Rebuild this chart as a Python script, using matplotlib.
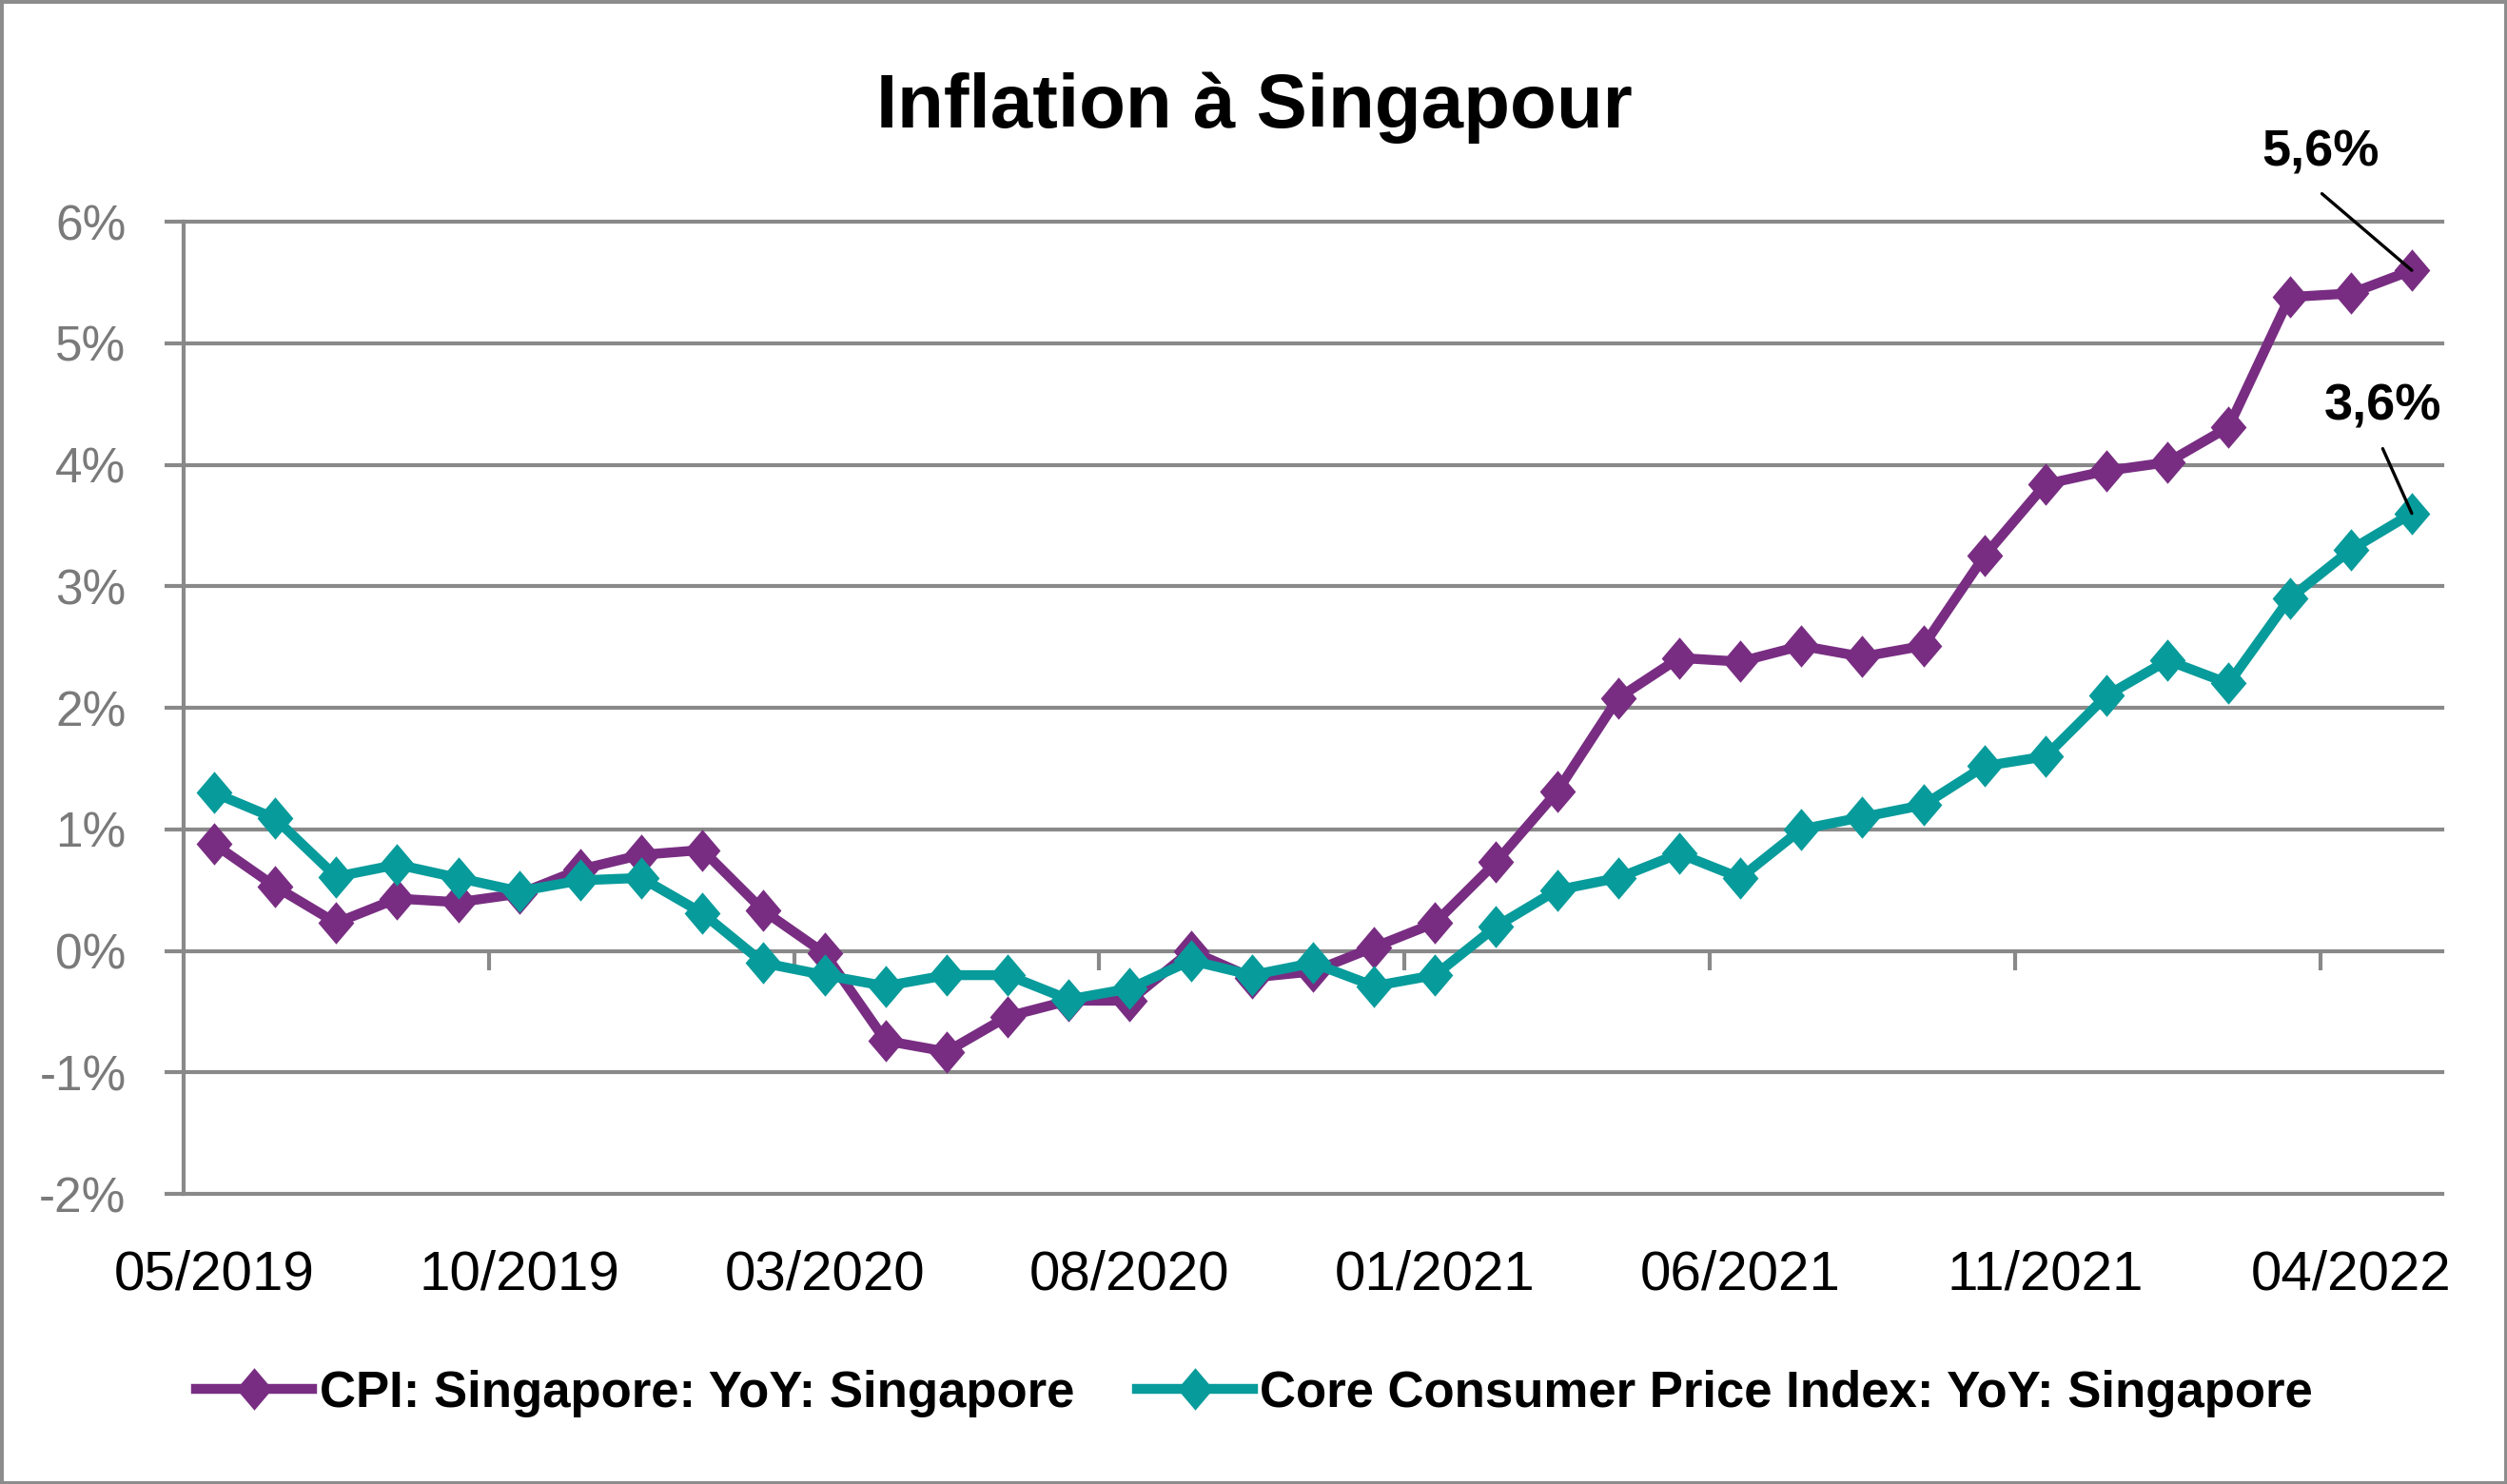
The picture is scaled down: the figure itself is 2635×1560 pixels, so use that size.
import matplotlib
matplotlib.use('Agg')
import matplotlib.pyplot as plt
from matplotlib.patches import Rectangle
import pandas as pd

months = list(pd.date_range('2019-05-01', periods=37, freq='MS').strftime('%m/%Y'))
cpi = [0.88, 0.53, 0.23, 0.43, 0.40, 0.47, 0.67, 0.79, 0.83, 0.33, -0.02, -0.74,
       -0.83, -0.54, -0.41, -0.41, 0.0, -0.22, -0.17, 0.03, 0.23, 0.73, 1.31, 2.08,
       2.41, 2.38, 2.51, 2.42, 2.51, 3.25, 3.84, 3.95, 4.02, 4.31, 5.38, 5.41, 5.60]
core = [1.3, 1.09, 0.61, 0.71, 0.6, 0.49, 0.58, 0.6, 0.31, -0.1, -0.2, -0.29,
        -0.2, -0.2, -0.4, -0.31, -0.08, -0.2, -0.1, -0.29, -0.2, 0.2, 0.5, 0.6,
        0.8, 0.6, 1.0, 1.1, 1.2, 1.52, 1.6, 2.1, 2.39, 2.2, 2.9, 3.3, 3.6]
yticks = [-2, -1, 0, 1, 2, 3, 4, 5, 6]
series_names = ['CPI: Singapore: YoY: Singapore', 'Core Consumer Price Index: YoY: Singapore']
title = 'Inflation à Singapour'
labels_last = ['5,6%', '3,6%']

PURPLE = '#782D82'
TEAL = '#089B9B'
GRID = '#898989'
plt.rcParams['font.family'] = ['Liberation Sans', 'DejaVu Sans']

fig = plt.figure(figsize=(26.35, 15.6), dpi=100)
ax = fig.add_axes([0.0732, 0.1955, 0.901, 0.6551])

diamond = [(0, 1), (0.85, 0), (0, -1), (-0.85, 0), (0, 1)]
x = list(range(len(months)))
ax.plot(x, cpi, color=PURPLE, lw=7.5, marker=diamond, ms=32, mec=PURPLE, mew=0,
        label=series_names[0], zorder=3, solid_joinstyle='miter')
ax.plot(x, core, color=TEAL, lw=7.5, marker=diamond, ms=32, mec=TEAL, mew=0,
        label=series_names[1], zorder=4, solid_joinstyle='miter')

ax.set_xlim(-0.5, len(months) - 0.5)
ax.set_ylim(yticks[0], yticks[-1])
for v in yticks:
    ax.axhline(v, color=GRID, lw=3, zorder=1, clip_on=False)

for s in ['top', 'right', 'bottom']:
    ax.spines[s].set_visible(False)
ax.spines['left'].set_color(GRID)
ax.spines['left'].set_linewidth(3)

ax.set_yticks(yticks)
ax.set_yticklabels([f'{v}%' for v in yticks], fontsize=37, color='#7a7a7a')
ax.tick_params(axis='y', length=14.4, width=3, color=GRID, pad=29)

ax.set_xticks(x[::5])
ax.set_xticklabels(months[::5], fontsize=42, color='black')
ax.tick_params(axis='x', length=0, pad=42)

# horizontal axis line ticks at 0%
sec = ax.secondary_xaxis((0 - yticks[0]) / (yticks[-1] - yticks[0]))
sec.set_xticks([i - 0.5 for i in x[5::5]])
sec.set_xticklabels([])
sec.tick_params(axis='x', length=14.4, width=3, color=GRID, direction='out')
sec.spines['bottom'].set_visible(False)

# annotations
ax.annotate(labels_last[0], xy=(x[-1], cpi[-1]), xytext=(-69, 89), textcoords='offset points',
            ha='center', va='center', fontsize=39, fontweight='bold', zorder=6)
ax.annotate('', xy=(x[-1], cpi[-1]), xytext=(-68, 58), textcoords='offset points',
            arrowprops=dict(arrowstyle='-', color='black', lw=2.4, shrinkA=0, shrinkB=0), zorder=6)
ax.annotate(labels_last[1], xy=(x[-1], core[-1]), xytext=(-22, 81), textcoords='offset points',
            ha='center', va='center', fontsize=39, fontweight='bold', zorder=6)
ax.annotate('', xy=(x[-1], core[-1]), xytext=(-22, 49), textcoords='offset points',
            arrowprops=dict(arrowstyle='-', color='black', lw=2.4, shrinkA=0, shrinkB=0), zorder=6)

fig.text(0.5002, 0.914, title, ha='center', va='baseline', fontsize=57.5, fontweight='bold')

leg = fig.legend(loc='center', bbox_to_anchor=(0.5005, 0.061), ncol=2, frameon=False,
                 prop={'size': 38, 'weight': 'bold'}, handlelength=2.3, handletextpad=0.15,
                 columnspacing=1.25)

fig.patches.append(Rectangle((0, 0), 1, 1, transform=fig.transFigure, fill=False,
                             ec='#8c8c8c', lw=5, zorder=10))

fig.savefig('out.png', dpi=100)
